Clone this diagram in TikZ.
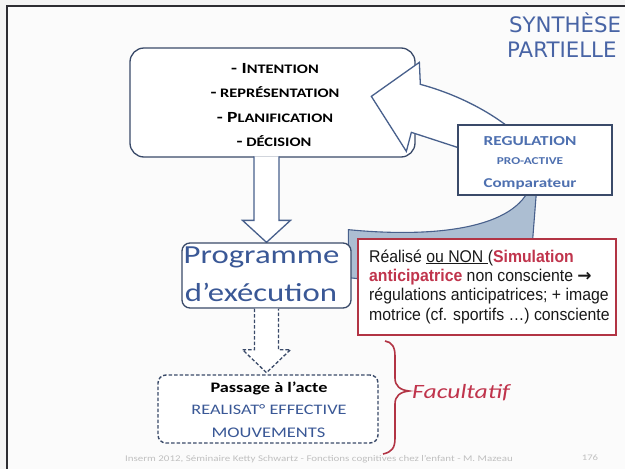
\documentclass[tikz,border=0pt]{standalone}
\usepackage{fontspec}
\usetikzlibrary{calc}
\setmainfont{Carlito}
\newfontfamily\calib[FakeStretch=1.26]{Carlito}
\newfontfamily\arialn[FakeStretch=0.93]{Liberation Sans}
\newfontfamily\titlefont{DejaVu Sans}
\newfontfamily\symfont{DejaVu Sans}

\definecolor{pagebg}{RGB}{244,244,244}
\definecolor{slidebg}{RGB}{251,251,251}
\definecolor{frameline}{RGB}{45,45,50}
\definecolor{boxline}{RGB}{58,74,105}
\definecolor{arrowline}{RGB}{72,96,140}
\definecolor{titleblue}{RGB}{72,100,165}
\definecolor{progblue}{RGB}{58,88,150}
\definecolor{regblue}{RGB}{78,112,176}
\definecolor{redline}{RGB}{178,52,68}
\definecolor{redtext}{RGB}{192,52,76}
\definecolor{bandfill}{RGB}{172,190,210}
\definecolor{footgray}{RGB}{192,192,192}

% larger first capital for the small-caps lines
\newcommand\ucap[1]{{\fontsize{15.5}{18}\selectfont #1}}

\tikzset{
  txt/.style={inner sep=0, anchor=base},
  boxshape/.style={draw=boxline, line width=1.3, fill=white, inner sep=0},
  blockarrow/.style={draw=arrowline, line width=1.3, fill=white, line join=miter},
  dashedline/.style={dash pattern=on 3.5pt off 2pt},
}

\begin{document}
\begin{tikzpicture}[x=1pt,y=-1pt]
\useasboundingbox (0,0) rectangle (625,469);
\fill[pagebg] (0,0) rectangle (625,469);
\fill[slidebg] (7,6) rectangle (625,469);
\draw[frameline, line width=1.8] (7,469) -- (7,6) -- (625,6);

% title
\node[txt, anchor=base west, text=titleblue, font=\titlefont\fontsize{21.3}{24}\selectfont] (syn) at (509,32) {SYNTHÈSE};
\node[txt, anchor=base west, text=titleblue, font=\titlefont\fontsize{21.3}{24}\selectfont] (part) at (507,57) {PARTIELLE};

% upper box
\node[boxshape, rounded corners=14, minimum width=285, minimum height=109] (topbox) at (272.5,102.5) {};
\begin{scope}[every node/.style={txt, font=\calib\bfseries\fontsize{13}{15}\selectfont}]
  \node (l1) at (275,73)  {\ucap{- I}NTENTION};
  \node (l2) at (275,97)  {\ucap{-} REPRÉSENTATION};
  \node (l3) at (275,122) {\ucap{- P}LANIFICATION};
  \node (l4) at (274,146) {\ucap{-} DÉCISION};
\end{scope}

% programme box (placed first so anchors exist)
\node[boxshape, rounded corners=8, minimum width=169, minimum height=65, draw=none, fill=none] (progbox) at (266.5,275.5) {};

% downward block arrow
\begin{scope}[shift={(progbox.north)}]
  \draw[blockarrow] (-12.5,-86) -- (-12.5,-22) -- (-24,-22) -- (0,0) -- (24,-22) -- (12.5,-22) -- (12.5,-86);
\end{scope}

% regulation box anchors
\node[boxshape, minimum width=154, minimum height=70, draw=none, fill=none] (regbox) at (535,160) {};

% curved block arrow back to the upper box
\begin{scope}[shift={(regbox.north west)}]
  \draw[blockarrow] (60,10) .. controls (35,-12) and (0,-30) .. (-37,-40)
    -- (-38,-62) -- (-86,-28) -- (-51,27) -- (-46,8) -- (0,23) -- (10,30) -- cycle;
\end{scope}

% shaded curved arrow towards the programme box
\begin{scope}[shift={(regbox.south west)}]
  \draw[draw=arrowline, line width=1.1, fill=bandfill]
    (70,-3) .. controls (47,37) and (-38,41) .. (-109,34)
    -- (-109,82) -- (-90,84) -- (75,48) -- (79,-3) -- cycle;
\end{scope}

% regulation box
\node[boxshape, minimum width=154, minimum height=70] (regboxd) at (regbox) {};
\node[txt, text=regblue, font=\calib\bfseries\fontsize{13.7}{16}\selectfont] (reg1) at (530,145.5) {REGULATION};
\node[txt, text=regblue, font=\calib\bfseries\fontsize{10.5}{12}\selectfont] (reg2) at (530,164) {PRO-ACTIVE};
\node[txt, text=regblue, font=\calib\bfseries\fontsize{13.5}{16}\selectfont] (reg3) at (530,187) {Comparateur};

% programme box
\node[boxshape, rounded corners=8, minimum width=169, minimum height=65] (progboxd) at (progbox) {};
\node[txt, text=progblue, font=\calib\fontsize{26}{30}\selectfont] (p1) at (261.5,263.5) {Programme};
\node[txt, text=progblue, font=\calib\fontsize{26}{30}\selectfont] (p2) at (261,301.5) {d’exécution};

% dashed arrow and box
\node[boxshape, draw=none, fill=none, minimum width=220, minimum height=68] (actbox) at (268,409) {};
\begin{scope}[shift={(progbox.south)}]
  \draw[blockarrow, draw=boxline, dashedline] (-12,0) -- (-12,41) -- (-24,41) -- (0,64) -- (24,41) -- (12,41) -- (12,0);
\end{scope}
\node[boxshape, draw=boxline, line width=1.4, dashedline, rounded corners=8, minimum width=220, minimum height=68] (actboxd) at (actbox) {};
\node[txt, font=\calib\bfseries\fontsize{14.5}{17}\selectfont] (a1) at (269,392.5) {Passage à l’acte};
\node[txt, text=progblue, font=\calib\fontsize{14.5}{17}\selectfont] (a2) at (269,414) {REALISAT° EFFECTIVE};
\node[txt, text=progblue, font=\calib\fontsize{14.7}{17}\selectfont] (a3) at (268.5,437) {MOUVEMENTS};

% red note box
\node[draw=redline, line width=2, fill=white, minimum width=258, minimum height=96, inner sep=0] (redbox) at (487,287) {};
\begin{scope}[every node/.style={txt, anchor=base west, text=black!90, font=\arialn\fontsize{17}{19}\selectfont}]
  \node (r1) at (369,262)   {Réalisé \underline{ou NON }(\textbf{\textcolor{redtext}{Simulation}}};
  \node (r2) at (369,281)   {\textbf{\textcolor{redtext}{anticipatrice}} non consciente {\symfont\bfseries →}};
  \node (r3) at (369,300.5) {régulations anticipatrices; + image};
  \node (r4) at (369,320)   {motrice (cf. sportifs …) consciente};
\end{scope}

% brace and label
\draw[redline, line width=1.6] (385,341) .. controls (392,342) and (395,347) .. (395,356)
  -- (395,378) .. controls (395,386) and (400,390) .. (409,391)
  .. controls (400,392) and (395,396) .. (395,404)
  -- (395,438) .. controls (395,448) and (392,452) .. (383,454);
\node[txt, anchor=base west, text=redtext, font=\calib\itshape\fontsize{20.3}{24}\selectfont] (fac) at (412,398.5) {Facultatif};

% footer
\node[txt, text=footgray, font=\calib\fontsize{8.7}{10}\selectfont] (foot) at (319,461) {Inserm 2012, Séminaire Ketty Schwartz - Fonctions cognitives chez l’enfant - M. Mazeau};
\node[txt, text=footgray, font=\calib\fontsize{8.5}{10}\selectfont] (pg) at (590,460) {176};
\end{tikzpicture}
\end{document}
